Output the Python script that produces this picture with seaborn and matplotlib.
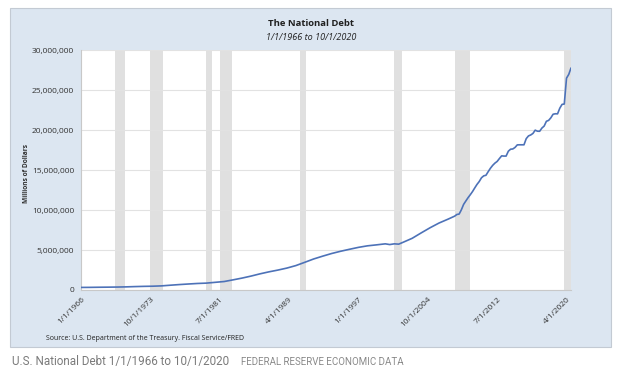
import matplotlib.pyplot as plt
import pandas as pd
import seaborn as sns
from matplotlib.patches import Rectangle
from matplotlib.ticker import FuncFormatter

# Federal debt, millions of dollars (quarterly near the end)
dates = [
    "1966-01-01", "1967-01-01", "1968-01-01", "1969-01-01", "1970-01-01",
    "1971-01-01", "1972-01-01", "1973-01-01", "1974-01-01", "1975-01-01",
    "1976-01-01", "1977-01-01", "1978-01-01", "1979-01-01", "1980-01-01",
    "1981-01-01", "1982-01-01", "1983-01-01", "1984-01-01", "1985-01-01",
    "1986-01-01", "1987-01-01", "1988-01-01", "1989-01-01", "1990-01-01",
    "1991-01-01", "1992-01-01", "1993-01-01", "1994-01-01", "1995-01-01",
    "1996-01-01", "1997-01-01", "1998-01-01", "1999-01-01", "2000-01-01",
    "2000-07-01", "2001-01-01", "2001-07-01", "2002-01-01", "2003-01-01",
    "2004-01-01", "2005-01-01", "2006-01-01", "2007-01-01", "2007-10-01",
    "2008-01-01", "2008-04-01", "2008-07-01", "2008-10-01",
    "2009-01-01", "2009-04-01", "2009-07-01", "2009-10-01",
    "2010-01-01", "2010-04-01", "2010-07-01", "2010-10-01",
    "2011-01-01", "2011-04-01", "2011-07-01", "2011-10-01",
    "2012-01-01", "2012-04-01", "2012-07-01", "2012-10-01",
    "2013-01-01", "2013-04-01", "2013-07-01", "2013-10-01",
    "2014-01-01", "2014-04-01", "2014-07-01", "2014-10-01",
    "2015-01-01", "2015-04-01", "2015-07-01", "2015-10-01",
    "2016-01-01", "2016-04-01", "2016-07-01", "2016-10-01",
    "2017-01-01", "2017-04-01", "2017-07-01", "2017-10-01",
    "2018-01-01", "2018-04-01", "2018-07-01", "2018-10-01",
    "2019-01-01", "2019-04-01", "2019-07-01", "2019-10-01",
    "2020-01-01", "2020-04-01", "2020-07-01", "2020-10-01",
]
debt = [
    321000, 329000, 344000, 355000, 368000,
    390000, 425000, 454000, 474000, 515000,
    600000, 680000, 750000, 815000, 860000,
    960000, 1060000, 1270000, 1490000, 1740000,
    2020000, 2270000, 2490000, 2740000, 3050000,
    3460000, 3880000, 4230000, 4560000, 4840000,
    5090000, 5330000, 5520000, 5640000, 5770000,
    5680000, 5770000, 5730000, 5970000, 6460000,
    7130000, 7780000, 8370000, 8850000, 9230000,
    9440000, 9490000, 10020000, 10700000,
    11130000, 11540000, 11910000, 12310000,
    12770000, 13200000, 13560000, 14030000,
    14270000, 14340000, 14790000, 15220000,
    15580000, 15860000, 16070000, 16430000,
    16770000, 16740000, 16740000, 17350000,
    17600000, 17630000, 17820000, 18140000,
    18150000, 18150000, 18150000, 18920000,
    19260000, 19380000, 19570000, 19980000,
    19850000, 19840000, 20240000, 20490000,
    21090000, 21200000, 21520000, 21970000,
    22030000, 22020000, 22720000, 23200000,
    23250000, 26480000, 26950000, 27750000,
]

# Recession shading
rec_start = ["1969-10-01", "1973-10-01", "1980-01-01", "1981-07-01",
             "1990-07-01", "2001-01-01", "2007-10-01", "2020-01-01"]
rec_end = ["1970-12-01", "1975-03-01", "1980-08-01", "1982-11-01",
           "1991-03-01", "2001-11-01", "2009-06-01", "2020-10-01"]

tick_dates = ["1966-01-01", "1973-10-01", "1981-07-01", "1989-04-01",
              "1997-01-01", "2004-10-01", "2012-07-01", "2020-04-01"]
tick_labels = ["1/1/1966", "10/1/1973", "7/1/1981", "4/1/1989",
               "1/1/1997", "10/1/2004", "7/1/2012", "4/1/2020"]

df = pd.DataFrame({"date": pd.to_datetime(dates), "debt": debt})

sns.set_style("white")
plt.rcParams['font.family'] = ['Open Sans', 'DejaVu Sans']

W, H = 624, 385
fig = plt.figure(figsize=(W / 100, H / 100), dpi=100)
fig.patch.set_facecolor("white")

# light blue chart panel (behind the axes)
fig.patches.append(Rectangle((10 / W, 1 - 347 / H), 601 / W, 339 / H,
                             transform=fig.transFigure, facecolor="#dce6f1",
                             edgecolor="#c3cad3", lw=0.8, zorder=-10))

ax = fig.add_axes([81 / W, 1 - 290 / H, 490 / W, 240 / H])
ax.set_facecolor("white")

for s, e in zip(rec_start, rec_end):
    ax.axvspan(pd.Timestamp(s), pd.Timestamp(e), color="#e0e0e0", lw=0, zorder=1)

sns.lineplot(data=df, x="date", y="debt", ax=ax, color="#4d72b8", lw=1.2, zorder=3)

ax.set_xlim(pd.Timestamp("1966-01-01"), pd.Timestamp("2020-10-01"))
ax.set_ylim(0, 30000000)
ax.set_yticks(range(0, 30000001, 5000000))
ax.yaxis.set_major_formatter(FuncFormatter(lambda v, p: f"{v:,.0f}"))
ax.set_xticks(pd.to_datetime(tick_dates))
ax.set_xticklabels(tick_labels, rotation=45, ha="right", rotation_mode="anchor")

ax.set_axisbelow("line")
ax.grid(axis="y", color="#e2e2e2", lw=0.8)
ax.grid(axis="x", visible=False)
for side in ["top", "right"]:
    ax.spines[side].set_visible(False)
for side in ["left", "bottom"]:
    ax.spines[side].set_color("#c8c8c8")
    ax.spines[side].set_linewidth(0.8)
ax.tick_params(axis="both", labelsize=6, labelcolor="#333333", length=3,
               color="#c8c8c8", width=0.8, pad=2)
ax.tick_params(axis="x", length=0, pad=4)

ax.set_xlabel("")
ax.set_ylabel("")
fig.text(26 / W, 1 - 173 / H, "Millions of Dollars", rotation=90, ha="center",
         va="center", fontsize=4.8, fontweight="bold", color="#303030")

fig.text(311 / W, 1 - 24 / H, "The National Debt", ha="center", va="center",
         fontsize=6.8, fontweight="bold", color="#202020")
fig.text(311 / W, 1 - 38 / H, "1/1/1966 to 10/1/2020", ha="center", va="center",
         fontsize=6.5, style="italic", color="#202020")
fig.text(46 / W, 1 - 338 / H, "Source: U.S. Department of the Treasury. Fiscal Service/FRED",
         ha="left", va="center", fontsize=5, color="#202020")

fig.text(12 / W, 1 - 362 / H, "U.S. National Debt 1/1/1966 to 10/1/2020",
         ha="left", va="center", fontsize=8.4, color="#7a7a7a", family=["Roboto", "DejaVu Sans"])
fig.text(241 / W, 1 - 362 / H, "FEDERAL RESERVE ECONOMIC DATA",
         ha="left", va="center", fontsize=7, color="#8a8a8a", family=["Roboto", "DejaVu Sans"])

fig.savefig("out.png", dpi=100)
